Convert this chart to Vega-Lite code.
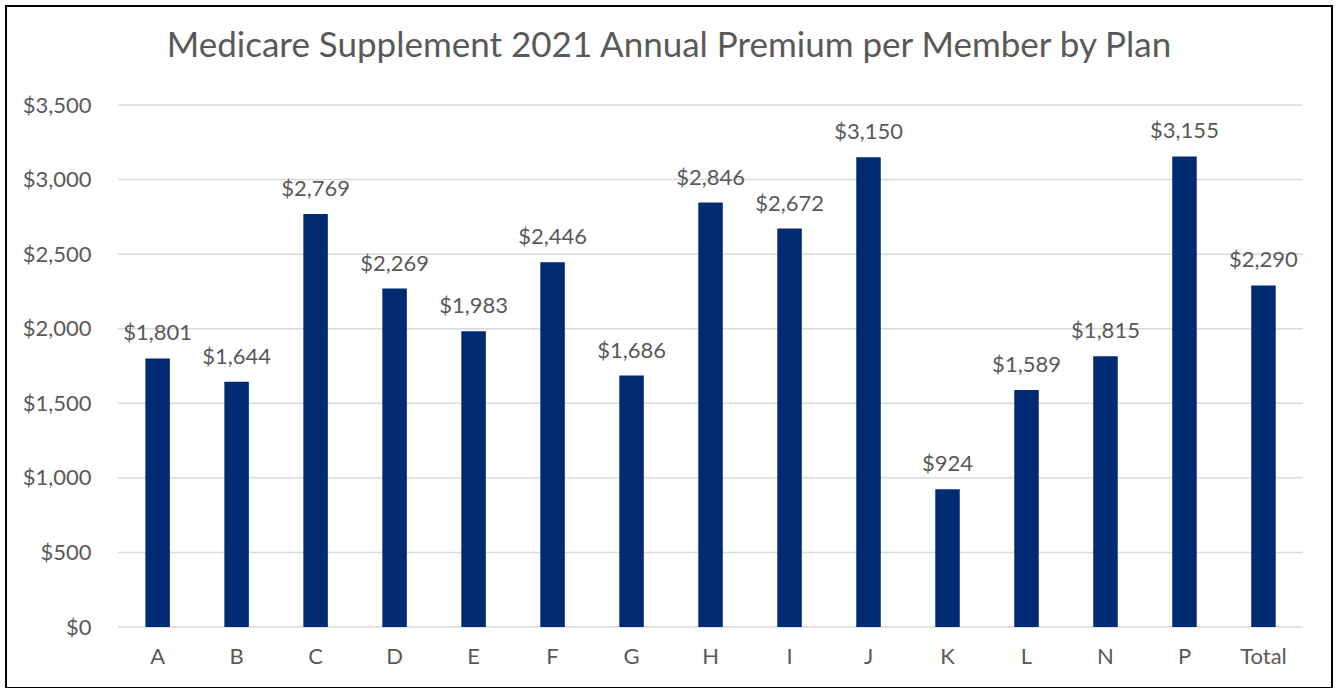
{
  "$schema": "https://vega.github.io/schema/vega-lite/v6.json",
  "autosize": {"type": "none"},
  "width": 1326,
  "height": 682,
  "padding": {"left": 6, "top": 6, "right": 4, "bottom": 0},
  "background": "white",
  "config": {
    "view": {"stroke": "#000000", "strokeWidth": 2},
    "font": "Lato"
  },
  "title": {
    "text": "Medicare Supplement 2021 Annual Premium per Member by Plan",
    "font": "Lato",
    "fontSize": 35,
    "fontWeight": "normal",
    "color": "#595959",
    "anchor": "middle",
    "baseline": "alphabetic",
    "offset": -86
  },
  "data": {
    "values": [
      {"plan": "A", "premium": 1801},
      {"plan": "B", "premium": 1644},
      {"plan": "C", "premium": 2769},
      {"plan": "D", "premium": 2269},
      {"plan": "E", "premium": 1983},
      {"plan": "F", "premium": 2446},
      {"plan": "G", "premium": 1686},
      {"plan": "H", "premium": 2846},
      {"plan": "I", "premium": 2672},
      {"plan": "J", "premium": 3150},
      {"plan": "K", "premium": 924},
      {"plan": "L", "premium": 1589},
      {"plan": "N", "premium": 1815},
      {"plan": "P", "premium": 3155},
      {"plan": "Total", "premium": 2290}
    ]
  },
  "layer": [
    {
      "data": {"values": [{"v": 0}, {"v": 500}, {"v": 1000}, {"v": 1500}, {"v": 2000}, {"v": 2500}, {"v": 3000}, {"v": 3500}]},
      "mark": {"type": "rule", "color": "#D9D9D9", "strokeWidth": 1.5},
      "encoding": {
        "y": {
          "field": "v",
          "type": "quantitative",
          "scale": {"domain": [-409, 4164], "nice": false, "zero": false},
          "axis": {
            "values": [0, 500, 1000, 1500, 2000, 2500, 3000, 3500],
            "format": "$,.0f",
            "grid": false,
            "domain": false,
            "ticks": false,
            "labelPadding": 26,
            "offset": -111,
            "title": null,
            "labelFont": "Lato",
            "labelFontSize": 22,
            "labelColor": "#595959"
          }
        },
        "x": {"datum": "A", "type": "nominal", "bandPosition": -0.135},
        "x2": {"datum": "Total", "bandPosition": 1.135}
      }
    },
    {
      "mark": {"type": "bar", "color": "#002A72", "width": {"band": 0.394}},
      "encoding": {
        "x": {
          "field": "plan",
          "type": "nominal",
          "sort": null,
          "scale": {
            "domain": ["A", "B", "C", "D", "E", "F", "G", "H", "I", "J", "K", "L", "N", "P", "Total"],
            "paddingInner": 0.213,
            "paddingOuter": 1,
            "align": 0.763
          },
          "axis": {
            "orient": "bottom",
            "offset": -61,
            "domain": false,
            "ticks": false,
            "labelPadding": 29,
            "labelAngle": 0,
            "labelAlign": "center",
            "bandPosition": 0.5,
            "title": null,
            "labelFont": "Lato",
            "labelFontSize": 22,
            "labelColor": "#595959"
          }
        },
        "y": {"field": "premium", "type": "quantitative"},
        "y2": {"datum": 0}
      }
    },
    {
      "mark": {"type": "text", "baseline": "alphabetic", "dy": -18, "fontSize": 22, "font": "Lato", "color": "#595959"},
      "encoding": {
        "x": {"field": "plan", "type": "nominal", "sort": null},
        "y": {"field": "premium", "type": "quantitative"},
        "text": {"field": "premium", "type": "quantitative", "format": "$,.0f"}
      }
    }
  ]
}
